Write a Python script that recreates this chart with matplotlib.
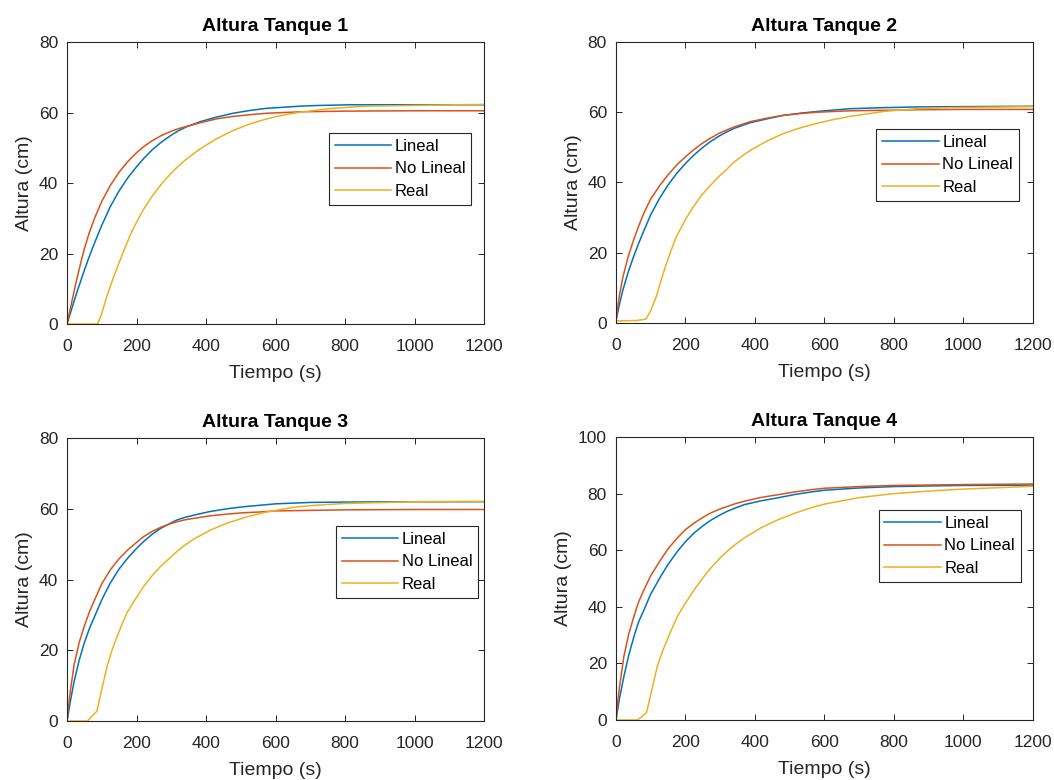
import matplotlib
matplotlib.use("Agg")
import matplotlib.pyplot as plt

plt.rcParams['font.family'] = ['Liberation Sans', 'DejaVu Sans']

# colores por defecto de MATLAB
c_lin = '#0072BD'
c_nolin = '#D95319'
c_real = '#EDB120'

# ---- Tanque 1
t1_lin = [0, 15, 30, 50, 65, 80, 100, 125, 150, 175, 200, 220, 245, 270, 300, 320, 345, 383, 430, 478, 527, 575, 623, 670, 720, 814, 900, 1000, 1200]
h1_lin = [0, 4.8, 9.5, 15.3, 19.4, 23.2, 28.0, 33.4, 37.8, 41.5, 44.6, 46.9, 49.4, 51.5, 53.6, 54.8, 56.0, 57.4, 58.7, 59.8, 60.6, 61.2, 61.5, 61.8, 62.0, 62.2, 62.2, 62.2, 62.2]
t1_nolin = [0, 10, 25, 40, 50, 65, 80, 100, 125, 150, 175, 200, 220, 245, 270, 300, 320, 345, 365, 383, 430, 478, 527, 575, 623, 670, 800, 1000, 1200]
h1_nolin = [0, 4.6, 11.4, 17.6, 21.4, 26.2, 30.2, 34.8, 39.4, 43.1, 46.1, 48.6, 50.3, 52.0, 53.4, 54.7, 55.4, 56.1, 56.6, 57.1, 58.2, 58.9, 59.4, 59.8, 60.0, 60.2, 60.4, 60.5, 60.5]
t1_real = [0, 88, 100, 115, 135, 160, 183, 200, 220, 245, 270, 295, 315, 340, 365, 383, 431, 478, 527, 575, 623, 670, 766, 862, 1054, 1200]
h1_real = [0, 0, 3.0, 8.0, 13.6, 20.0, 25.5, 28.9, 32.5, 36.3, 39.5, 42.3, 44.3, 46.5, 48.4, 49.7, 52.6, 54.9, 56.8, 58.2, 59.3, 60.1, 61.2, 61.8, 62.1, 62.3]

# ---- Tanque 2
t2_lin = [0, 10, 20, 35, 50, 65, 80, 100, 125, 150, 175, 200, 220, 245, 270, 295, 315, 340, 386, 434, 481, 529, 577, 625, 673, 769, 865, 1000, 1200]
h2_lin = [0.6, 5.3, 9.4, 14.4, 18.7, 22.6, 26.2, 30.8, 35.4, 39.3, 42.6, 45.4, 47.4, 49.6, 51.5, 53.1, 54.2, 55.4, 57.0, 58.1, 59.1, 59.7, 60.2, 60.6, 61.0, 61.3, 61.5, 61.6, 61.7]
t2_nolin = [0, 5, 10, 20, 35, 50, 65, 80, 100, 125, 150, 175, 200, 220, 245, 270, 295, 315, 340, 386, 434, 481, 529, 577, 673, 865, 1000, 1200]
h2_nolin = [0.6, 4.5, 7.8, 13.1, 18.8, 23.4, 27.5, 31.2, 35.3, 39.0, 42.2, 45.0, 47.3, 49.0, 50.9, 52.5, 53.9, 54.8, 55.8, 57.3, 58.3, 59.1, 59.6, 60.0, 60.4, 60.7, 60.8, 60.8]
t2_real = [0, 60, 86, 100, 116, 130, 145, 160, 173, 200, 221, 245, 269, 295, 316, 340, 364, 386, 434, 481, 529, 577, 625, 673, 769, 865, 961, 1200]
h2_real = [0.6, 0.7, 1.1, 3.5, 7.5, 12.2, 16.9, 21.0, 24.4, 29.5, 32.8, 36.2, 38.9, 41.6, 43.5, 45.8, 47.6, 49.1, 51.8, 53.9, 55.5, 56.8, 57.9, 58.8, 60.2, 61.0, 61.3, 61.6]

# ---- Tanque 3
t3_lin = [0, 10, 20, 35, 50, 65, 80, 100, 125, 150, 175, 200, 220, 245, 270, 295, 315, 340, 365, 410, 460, 510, 555, 600, 700, 800, 1000, 1200]
h3_lin = [0, 5.8, 11, 17.2, 22.2, 26.3, 29.7, 34.3, 39.1, 43, 46.1, 48.8, 50.7, 52.8, 54.5, 55.8, 56.8, 57.6, 58.2, 59.2, 60.0, 60.6, 61.0, 61.4, 61.8, 61.9, 62.0, 62.0]
t3_nolin = [0, 5, 10, 20, 35, 50, 65, 80, 100, 125, 150, 175, 200, 220, 245, 270, 295, 315, 340, 365, 410, 460, 510, 555, 600, 800, 1000, 1200]
h3_nolin = [0, 4.8, 8.8, 15.7, 22.2, 26.9, 31.0, 34.4, 38.8, 42.8, 45.9, 48.4, 50.5, 52.1, 53.6, 54.8, 55.7, 56.3, 56.9, 57.3, 58.0, 58.5, 58.9, 59.1, 59.4, 59.7, 59.8, 59.8]
t3_real = [0, 59, 86, 100, 116, 130, 145, 160, 173, 200, 221, 245, 269, 295, 316, 340, 364, 411, 459, 510, 554, 575, 650, 700, 800, 1000, 1200]
h3_real = [0, 0, 2.8, 9.0, 15.7, 20.2, 24.1, 27.8, 30.7, 35.0, 38.1, 41.1, 43.7, 46.0, 47.9, 49.8, 51.4, 53.9, 55.9, 57.5, 58.6, 59.1, 60.4, 60.9, 61.5, 62.0, 62.1]

# ---- Tanque 4
t4_lin = [0, 10, 23, 37, 52, 65, 81, 100, 129, 150, 177, 200, 225, 250, 273, 300, 321, 345, 369, 415, 465, 515, 562, 600, 700, 800, 1000, 1200]
h4_lin = [0, 7.5, 15.5, 23.0, 29.6, 34.6, 39.0, 44.5, 50.8, 55.0, 59.6, 63.0, 66.1, 68.6, 70.6, 72.5, 73.8, 75.0, 76.1, 77.4, 78.5, 79.7, 80.6, 81.2, 82.0, 82.5, 82.9, 83.0]
t4_nolin = [0, 5, 10, 23, 37, 52, 65, 81, 100, 129, 150, 177, 200, 225, 250, 273, 300, 321, 345, 369, 415, 465, 515, 562, 600, 700, 800, 1000, 1200]
h4_nolin = [0, 6.5, 11.5, 22.6, 30.5, 36.7, 41.7, 46.1, 51.0, 56.7, 60.5, 64.4, 67.3, 69.6, 71.6, 73.2, 74.6, 75.5, 76.5, 77.3, 78.6, 79.6, 80.6, 81.4, 81.9, 82.5, 82.9, 83.2, 83.4]
t4_real = [0, 62, 88, 100, 119, 135, 148, 165, 177, 200, 225, 250, 273, 300, 321, 345, 369, 417, 465, 515, 562, 600, 700, 800, 900, 1000, 1200]
h4_real = [0, 0, 2.6, 9.0, 19.0, 24.6, 28.5, 33.4, 36.7, 41.3, 46.0, 50.2, 53.7, 57.3, 59.7, 62.2, 64.3, 67.9, 70.7, 73.1, 75.0, 76.3, 78.6, 80.0, 80.9, 81.6, 82.6]

titles = ['Altura Tanque 1', 'Altura Tanque 2', 'Altura Tanque 3', 'Altura Tanque 4']
ymax = [80, 80, 80, 100]
labels = ['Lineal', 'No Lineal', 'Real']

datos = [
    (t1_lin, h1_lin, t1_nolin, h1_nolin, t1_real, h1_real),
    (t2_lin, h2_lin, t2_nolin, h2_nolin, t2_real, h2_real),
    (t3_lin, h3_lin, t3_nolin, h3_nolin, t3_real, h3_real),
    (t4_lin, h4_lin, t4_nolin, h4_nolin, t4_real, h4_real),
]

# posiciones de los ejes [left, bottom, width, height]
pos = [
    [0.0636, 0.5846, 0.3956, 0.3615],
    [0.5844, 0.5859, 0.3956, 0.3603],
    [0.0636, 0.0756, 0.3956, 0.3628],
    [0.5844, 0.0769, 0.3956, 0.3628],
]
# esquina superior derecha de la leyenda (coords de ejes)
leg_anchor = [(0.969, 0.677), (0.966, 0.690), (0.986, 0.689), (0.971, 0.742)]

gray = '#262626'

fig = plt.figure(figsize=(10.54, 7.80), dpi=100)

for i in range(4):
    ax = fig.add_axes(pos[i])
    tl, hl, tn, hn, tr, hr = datos[i]
    ax.plot(tl, hl, color=c_lin, lw=1.1, label=labels[0])
    ax.plot(tn, hn, color=c_nolin, lw=1.1, label=labels[1])
    ax.plot(tr, hr, color=c_real, lw=1.1, label=labels[2])

    ax.set_xlim(0, 1200)
    ax.set_ylim(0, ymax[i])
    ax.set_xticks(range(0, 1201, 200))
    ax.set_yticks(range(0, ymax[i] + 1, 20))
    ax.tick_params(direction='in', top=True, right=True, length=4, width=0.7,
                   colors=gray, labelsize=12.5)
    ax.tick_params(axis='x', pad=11)
    ax.tick_params(axis='y', pad=6.5)
    for sp in ax.spines.values():
        sp.set_color(gray)
        sp.set_linewidth(0.8)

    ax.set_title(titles[i], fontsize=14, fontweight='bold', pad=8)
    ax.set_xlabel('Tiempo (s)', fontsize=14, color=gray, labelpad=8)
    ax.set_ylabel('Altura (cm)', fontsize=14, color=gray, labelpad=4)

    leg = ax.legend(loc='upper right', bbox_to_anchor=leg_anchor[i], fontsize=12,
                    fancybox=False, framealpha=1, edgecolor=gray, borderpad=0.35,
                    labelspacing=0.45, handlelength=3.4, handletextpad=0.2,
                    borderaxespad=0)
    leg.get_frame().set_linewidth(0.8)

fig.savefig('out.png', dpi=100)
